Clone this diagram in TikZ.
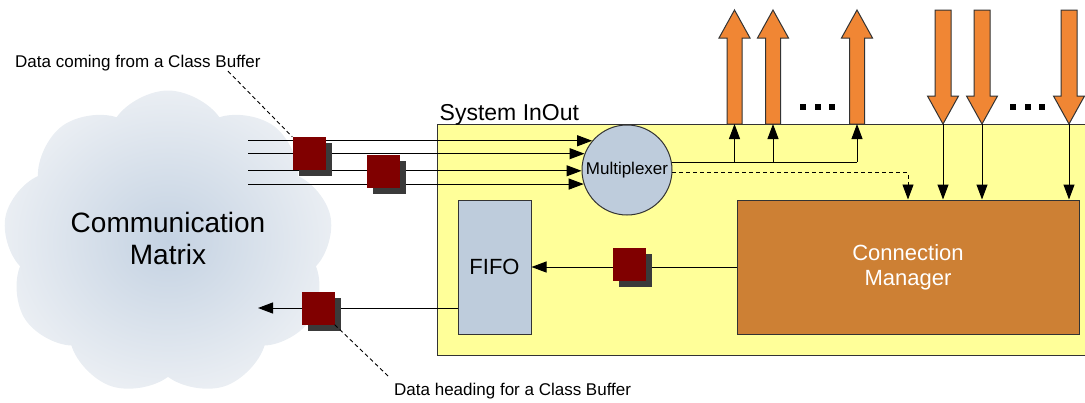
\documentclass[tikz,border=0pt]{standalone}
\usepackage{fontspec}
\setmainfont{Liberation Sans}
\usetikzlibrary{arrows.meta,shapes.symbols,shadows}
\definecolor{inoutyellow}{RGB}{255,255,153}
\definecolor{boxblue}{RGB}{190,204,220}
\definecolor{mgrorange}{RGB}{205,128,52}
\definecolor{fatorange}{RGB}{240,134,52}
\definecolor{pktred}{RGB}{128,0,0}
\definecolor{pktshadow}{RGB}{58,58,58}
\definecolor{cloudin}{RGB}{196,210,226}
\definecolor{cloudout}{RGB}{234,238,243}
\tikzset{
  arr/.style={-{Triangle[length=15pt,width=11pt]},line width=1pt},
  note/.style={dash pattern=on 4pt off 3pt,line width=0.9pt},
  packet/.style={fill=pktred,minimum size=33pt,inner sep=0pt,
    general shadow={fill=pktshadow,shadow xshift=6pt,shadow yshift=-6pt}},
  fatarrow/.style={fill=fatorange,draw=black!80,line width=1pt},
  unit/.style={draw=black!80,line width=1pt,inner sep=0pt},
}
\begin{document}
\begin{tikzpicture}[x=1pt,y=-1pt]
  \useasboundingbox (0,0) rectangle (1085,402);
  \node[cloud,cloud puffs=9,cloud puff arc=110,aspect=1.1,minimum width=330pt,minimum height=305pt,
    inner color=cloudin,outer color=cloudout,align=center,
    font=\fontsize{28}{32}\selectfont] (comm) at (168,243) {Communication\\Matrix\\[-22pt]};
  \node[unit,fill=inoutyellow,minimum width=653pt,minimum height=231pt] (inout) at (763.5,239.5) {};
  \node[anchor=base west,inner sep=0pt,font=\fontsize{23}{26}\selectfont] (inoutlbl)
    at ([shift={(3,-3)}]inout.north west) {System InOut};
  \node[unit,circle,fill=boxblue,minimum size=90pt,font=\fontsize{17}{20}\selectfont] (mux) at (627,170) {Multiplexer};
  \node[unit,fill=boxblue,minimum width=73pt,minimum height=134pt,font=\fontsize{22}{26}\selectfont] (fifo) at (494.5,267) {FIFO};
  \node[unit,fill=mgrorange,text=white,align=center,minimum width=342pt,minimum height=134pt,
    font=\fontsize{22}{25}\selectfont] (cm) at (908,267) {Connection\\Manager};
  % outgoing and incoming channels
  \foreach \x/\n in {734.5/1,773/2,857/3}{
    \draw[fatarrow] (\x-7.5,124) -- (\x-7.5,38) -- (\x-15.5,38) -- (\x,10) -- (\x+15.5,38) -- (\x+7.5,38) -- (\x+7.5,124) -- cycle;
    \coordinate (up\n) at (\x,124);
  }
  \foreach \x/\n in {943/1,982/2,1069/3}{
    \draw[fatarrow] (\x-8,10) -- (\x-8,96) -- (\x-15.5,96) -- (\x,124) -- (\x+15.5,96) -- (\x+8,96) -- (\x+8,10) -- cycle;
    \coordinate (dn\n) at (\x,124);
  }
  \foreach \x in {800,815,829,1010,1025,1039} \fill (\x,104) rectangle ++(6,6);
  % multiplexer outputs
  \draw[line width=1pt] (mux.10) -- (mux.10 -| up3);
  \foreach \n in {1,2,3} \draw[arr] (up\n |- mux.10) -- (up\n);
  \draw[arr,note] (mux.-3) -| (cm.north);
  \foreach \n in {1,2,3} \draw[arr] (dn\n) -- (dn\n |- cm.north);
  % inputs from the matrix
  \coordinate (inA) at (248,0);
  \foreach \a in {140,159,181,198} \draw[arr] (mux.\a -| inA) -- (mux.\a);
  \draw[arr] (cm.west) -- (fifo.east);
  \coordinate (outA) at (258,308);
  \draw[arr] (fifo.west |- outA) -- (outA);
  % packets
  \node[packet] (pkt1) at (309,153.5) {};
  \node[packet] (pkt2) at (383.5,171) {};
  \node[packet] (pkt3) at (318,308) {};
  \node[packet] (pkt4) at (629,264.5) {};
  \node[anchor=west,inner sep=0pt,font=\fontsize{17}{20}\selectfont] (lblin) at (15,63) {Data coming from a Class Buffer};
  \node[anchor=west,inner sep=0pt,font=\fontsize{17}{20}\selectfont] (lblout) at (394,391) {Data heading for a Class Buffer};
  \draw[note] ([xshift=213pt]lblin.south west) -- (pkt1.north west);
  \draw[note] (pkt3.south east) -- ([shift={(-5,-6)}]lblout.north west);
\end{tikzpicture}
\end{document}
